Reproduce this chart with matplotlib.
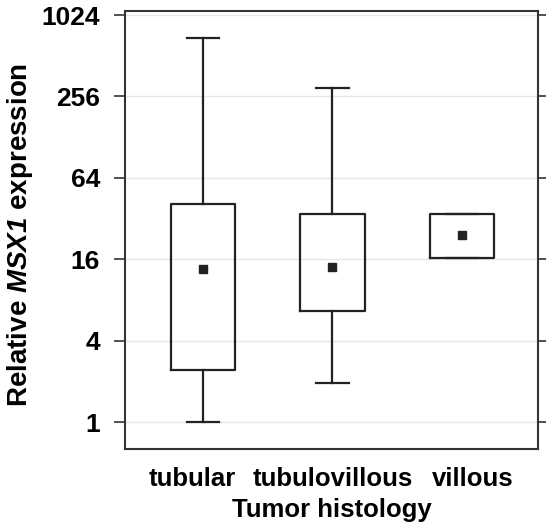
import numpy as np
import matplotlib
matplotlib.use("Agg")
import matplotlib.pyplot as plt

plt.rcParams['font.family'] = ['Liberation Sans', 'DejaVu Sans']
plt.rcParams['mathtext.fontset'] = 'custom'
plt.rcParams['mathtext.bfit'] = 'Liberation Sans:italic:bold'

# 数据：箱线图统计量
groups = ['tubular', 'tubulovillous', 'villous']
whislo = [1.0, 1.94, 16.3]
q1 = [2.42, 6.6, 16.3]
means = [13.5, 14.0, 24.1]
q3 = [41.0, 34.5, 34.5]
whishi = [690.0, 296.0, 34.5]

yticks = [1, 4, 16, 64, 256, 1024]
# 标签位置略有偏移，避免重叠
label_pos = [0.915, 2.0, 3.085]

stats = []
for i in range(len(groups)):
    stats.append({'label': groups[i], 'whislo': whislo[i], 'q1': q1[i],
                  'med': q1[i], 'mean': means[i], 'q3': q3[i],
                  'whishi': whishi[i], 'fliers': []})

fig = plt.figure(figsize=(5.46, 5.29), dpi=100)
ax = fig.add_axes([125 / 546, 80 / 529, 413 / 546, 438 / 529])

line_c = '#222222'
ax.bxp(stats, positions=[1, 2, 3], widths=0.5, showmeans=True,
       showfliers=False, manage_ticks=False,
       boxprops=dict(color=line_c, linewidth=1.6),
       whiskerprops=dict(color=line_c, linewidth=1.6),
       capprops=dict(color=line_c, linewidth=1.6),
       medianprops=dict(visible=False),
       meanprops=dict(marker='s', markerfacecolor=line_c,
                      markeredgecolor=line_c, markersize=5.5))

ax.set_yscale('log', base=2)
ax.set_ylim(2 ** -0.66, 2 ** 10.1)
ax.set_xlim(0.398, 3.587)
ax.set_yticks(yticks)
ax.set_yticklabels([str(t) for t in yticks])
ax.set_xticks(label_pos)
ax.set_xticklabels(groups)
ax.minorticks_off()
ax.yaxis.grid(True, color='#e6e6e6', linewidth=1)
ax.set_axisbelow(True)

ax.tick_params(axis='y', which='major', length=8, width=1.2, color='#333333',
               labelsize=19, pad=10, right=True, direction='out')
ax.tick_params(axis='x', length=0, labelsize=18.5, pad=13)
for lab in ax.get_xticklabels() + ax.get_yticklabels():
    lab.set_fontweight('bold')

for sp in ax.spines.values():
    sp.set_color('#333333')
    sp.set_linewidth(1.5)

ax.set_xlabel('Tumor histology', fontsize=18.5, fontweight='bold', labelpad=5)
ax.set_ylabel(r'Relative $\bfit{MSX1}$ expression', fontsize=20,
              fontweight='bold')
ax.yaxis.set_label_coords(-0.217, 0.489)

fig.savefig('out.png', dpi=100)
